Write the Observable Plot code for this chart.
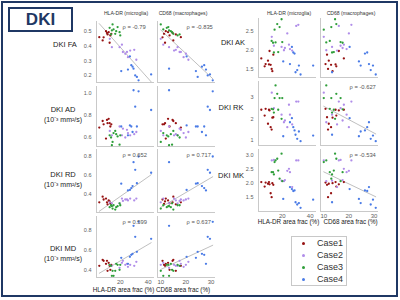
<!DOCTYPE html>
<html><head><meta charset="utf-8">
<script src="https://cdn.jsdelivr.net/npm/d3@7"></script>
<script src="https://cdn.jsdelivr.net/npm/@observablehq/plot@0.6"></script>
<style>
body{margin:0;background:#fff;font-family:"Liberation Sans",Arial,sans-serif;}
#wrap{position:relative;width:400px;height:300px;overflow:hidden;background:#fff;}
.abs{position:absolute;white-space:nowrap;line-height:1;}
.c{transform:translate(-50%,-50%);}
svg{display:block;}
</style></head><body><div id="wrap"></div>
<script>
// ---------- data ----------
const caseNames = ["Case1","Case2","Case3","Case4"];
const caseColors = ["#961212","#b08de9","#2f9e3a","#4a7be6"];
const caseOf = [1,1,1,1,1,1,1,1,1,1, 2,2,2,2,2,2,2,2,2,2,2, 3,3,3,3,3,3,3,3,3,3, 4,4,4,4,4,4,4,4,4,4];
const hla  = [5.0,7.4,8.1,9.8,10.5,10.9,11.7,12.4,12.9,13.6,
              12.5,21.2,14.0,19.5,30.0,27.1,21.9,24.8,23.6,25.5,31.5,
              14.5,18.1,12.4,15.2,14.0,17.1,19.5,16.4,13.4,20.0,
              20.7,25.5,26.9,27.9,29.5,28.8,30.7,31.9,33.1,42.1];
const cd68 = [18.0,15.0,10.7,12.0,14.7,16.0,12.9,11.7,13.5,11.3,
              10,11,16.7,13.3,16,15.3,17.5,18,20,19.1,21,
              10,13,12.4,11,13.3,14,14.5,15,17.5,16.7,
              24,28,20.3,27.3,13.3,26.4,28.7,24.7,30.7,29.6];
const fa = [0.461,0.439,0.46,0.502,0.49,0.48,0.495,0.423,0.473,0.484,
            0.45,0.41,0.393,0.393,0.375,0.37,0.36,0.36,0.348,0.325,0.307,
            0.548,0.53,0.525,0.514,0.507,0.502,0.495,0.484,0.48,0.473,
            0.23,0.24,0.33,0.27,0.246,0.26,0.20,0.19,0.167,0.207];
const ad = [0.69,0.75,0.72,0.59,0.76,0.73,0.77,0.73,0.70,0.72,
            0.66,0.62,0.62,0.70,0.63,0.62,0.68,0.67,0.60,0.64,0.65,
            0.56,0.61,0.62,0.64,0.53,0.63,0.535,0.66,0.60,0.62,
            0.70,0.62,0.71,0.70,1.03,0.65,0.88,0.70,1.02,0.85];
const rd = [0.32,0.38,0.35,0.36,0.32,0.30,0.34,0.33,0.31,0.305,
            0.32,0.36,0.31,0.31,0.34,0.36,0.335,0.35,0.35,0.34,0.36,
            0.255,0.28,0.27,0.29,0.28,0.27,0.31,0.245,0.29,0.29,
            0.515,0.445,0.45,0.47,0.74,0.49,0.66,0.52,0.80,0.63];
const md = [0.44,0.50,0.49,0.46,0.49,0.39,0.47,0.44,0.40,0.45,
            0.45,0.47,0.44,0.42,0.44,0.45,0.49,0.46,0.45,0.43,0.48,
            0.39,0.45,0.45,0.34,0.34,0.46,0.40,0.39,0.44,0.45,
            0.52,0.46,0.53,0.55,0.84,0.56,0.73,0.58,0.88,0.71];
const ak = [1.78,1.57,1.63,1.72,1.62,1.98,1.61,1.50,1.44,1.88,
            2.36,2.00,2.12,2.09,2.65,1.99,2.06,2.15,2.45,2.03,2.68,
            2.55,2.62,2.25,2.21,1.94,1.95,2.83,2.70,2.20,2.22,
            1.70,1.63,2.09,1.94,1.41,1.91,1.47,1.59,1.35,1.59];
const rk = [2.43,2.16,2.47,1.78,2.43,2.40,1.62,1.51,2.06,2.08,
            3.22,1.85,2.50,2.20,2.81,1.75,1.93,2.66,1.62,2.20,2.81,
            2.97,2.97,2.47,3.56,2.30,2.43,2.01,3.17,2.45,2.97,
            1.20,1.85,2.04,1.62,1.27,1.47,1.08,1.42,0.97,1.23];
const mk = [2.05,1.89,2.03,1.99,2.05,1.97,1.65,1.51,2.01,1.95,
            2.82,2.08,2.84,2.10,2.82,1.87,2.12,2.52,2.45,2.40,2.82,
            2.76,2.17,2.40,2.82,2.32,2.46,3.06,2.88,2.40,2.08,
            1.45,1.87,1.80,1.73,1.33,1.75,1.25,1.30,1.13,1.42];

const yTicksFA = [0.2,0.3,0.4,0.5];
const yTicksAD = [0.6,0.8,1.0];
const yTicksRD = [0.4,0.6,0.8];
const yTicksMD = [0.4,0.6,0.8];
const yTicksAK = [1.5,2.0,2.5];
const yTicksRK = [1,2,3];
const yTicksMK = [1.5,2.0,2.5,3.0];
const xTicksHLA = [20,40];
const xTicksCD68 = [10,20,30];

const rhoFA = ["ρ = -0.79","ρ = -0.835"];
const rhoRD = ["ρ = 0.652","ρ = 0.717"];
const rhoMD = ["ρ = 0.599","ρ = 0.637"];
const rhoRK = [null,"ρ = -0.627"];
const rhoMK = [null,"ρ = -0.534"];

const colHeaders = ["HLA-DR (microglia)","CD68 (macrophages)"];
const xTitles = ["HLA-DR area frac (%)","CD68 area frac (%)"];
const unitLabel = "(10⁻³  mm²/s)";

// ---------- build ----------
const data = caseOf.map((c,i)=>({case:caseNames[c-1], hla:hla[i], cd68:cd68[i], fa:fa[i], ad:ad[i], rd:rd[i], md:md[i], ak:ak[i], rk:rk[i], mk:mk[i]}));
const wrap = document.getElementById("wrap");
function txt(s, cx, cy, size, color, weight){
  const d=document.createElement("div");
  d.className="abs c"; d.textContent=s;
  d.style.left=cx+"px"; d.style.top=cy+"px"; d.style.fontSize=size+"px";
  d.style.color=color||"#222"; if(weight) d.style.fontWeight=weight;
  wrap.appendChild(d); return d;
}
const HLA_DOM=[3,44.5], CD68_DOM=[8.7,31.8];
const PW=58;
function panel(o){
  const ML=20,MR=4,MT=2,MB=12;
  const marks=[
    Plot.ruleX([o.xDom[0]],{stroke:"#c9c9c9",strokeWidth:1}),
    Plot.ruleY([o.yDom[0]],{stroke:"#c9c9c9",strokeWidth:1})
  ];
  if(o.showY) marks.push(Plot.axisY(o.yTicks,{tickSize:0,tickPadding:5,tickFormat:d3.format(o.yFmt),fontSize:5.5,label:null}));
  if(o.showX) marks.push(Plot.axisX(o.xTicks,{tickSize:0,tickPadding:2.5,tickFormat:d3.format("d"),fontSize:6,label:null}));
  if(o.rho) marks.push(Plot.linearRegressionY(data,{x:o.xKey,y:o.yKey,stroke:"#b8b8b8",strokeWidth:0.9,ci:0}));
  marks.push(Plot.dot(data,{x:o.xKey,y:o.yKey,fill:"case",r:1.15}));
  if(o.rho) marks.push(Plot.text([o.rho],{text:d=>d,frameAnchor:"top-left",textAnchor:"start",lineAnchor:"middle",dx:o.rdx,dy:5.5,fontSize:5.8,fill:"#555"}));
  const svg=Plot.plot({
    width:PW+ML+MR, height:o.h+MT+MB, marginLeft:ML, marginRight:MR, marginTop:MT, marginBottom:MB,
    x:{domain:o.xDom, axis:null}, y:{domain:o.yDom, axis:null},
    color:{domain:caseNames, range:caseColors},
    style:{fontFamily:"Liberation Sans, Arial, sans-serif",fontSize:"5.5px",color:"#606060",background:"transparent",overflow:"visible",maxWidth:"none"},
    marks
  });
  const d=document.createElement("div");
  d.className="abs"; d.style.left=(o.x0-ML)+"px"; d.style.top=(o.top-MT)+"px";
  d.appendChild(svg); wrap.appendChild(d);
}
const rows=[
  {key:"fa",x0:[96,157],top:21,h:61,dom:[0.152,0.568],ticks:yTicksFA,fmt:".1f",rho:rhoFA,bottom:false},
  {key:"ad",x0:[96,157],top:86,h:60,dom:[0.518,1.064],ticks:yTicksAD,fmt:".1f",rho:[null,null],bottom:false},
  {key:"rd",x0:[96,157],top:149,h:63,dom:[0.214,0.873],ticks:yTicksRD,fmt:".1f",rho:rhoRD,bottom:false},
  {key:"md",x0:[96,157],top:216,h:61,dom:[0.323,0.933],ticks:yTicksMD,fmt:".1f",rho:rhoMD,bottom:true},
  {key:"ak",x0:[258,320],top:18,h:59,dom:[1.27,2.85],ticks:yTicksAK,fmt:".1f",rho:[null,null],bottom:false},
  {key:"rk",x0:[258,320],top:81,h:64,dom:[0.77,3.74],ticks:yTicksRK,fmt:"d",rho:rhoRK,bottom:false},
  {key:"mk",x0:[258,320],top:149,h:62,dom:[1.0,3.21],ticks:yTicksMK,fmt:".1f",rho:rhoMK,bottom:true}
];
for(const r of rows){
  for(let c=0;c<2;c++){
    panel({x0:r.x0[c],top:r.top,h:r.h,xKey:c?"cd68":"hla",xDom:c?CD68_DOM:HLA_DOM,yKey:r.key,yDom:r.dom,
      yTicks:r.ticks,yFmt:r.fmt,showY:c===0,xTicks:c?xTicksCD68:xTicksHLA,showX:r.bottom,rho:r.rho[c],rdx:c?29:26});
  }
}
// frame + title box
const fr=document.createElement("div");
fr.className="abs"; Object.assign(fr.style,{left:"1px",top:"1px",width:"397px",height:"296px",border:"2px solid #1f3864",boxSizing:"border-box"});
wrap.appendChild(fr);
const tb=document.createElement("div");
tb.className="abs"; Object.assign(tb.style,{left:"8px",top:"7px",width:"65px",height:"25px",border:"2px solid #1f3864",boxSizing:"border-box",
  color:"#1f3864",fontWeight:"bold",fontSize:"17px",display:"flex",alignItems:"center",justifyContent:"center"});
tb.textContent="DKI"; wrap.appendChild(tb);
// headers
txt(colHeaders[0],126,13.5,5.1,"#333"); txt(colHeaders[1],183,13.5,5.1,"#333");
txt(colHeaders[0],289,13.5,5.1,"#333"); txt(colHeaders[1],351,13.5,5.1,"#333");
// row labels
txt("DKI FA",65,45,7.5); 
txt("DKI AD",63,110,7.5); txt(unitLabel,63,118.5,7);
txt("DKI RD",63,175,7.5); txt(unitLabel,63,183.5,7);
txt("DKI MD",63,249,7.5); txt(unitLabel,63,257.5,7);
txt("DKI AK",233,43,7.5); txt("DKI RK",231,108,7.5); txt("DKI MK",231,176,7.5);
// x titles
txt(xTitles[0],123.5,290,6.3); txt(xTitles[1],183,290,6.3);
txt(xTitles[0],288.5,222,6.3); txt(xTitles[1],350.5,222,6.3);
// legend
const lg=document.createElement("div");
lg.className="abs"; Object.assign(lg.style,{left:"291px",top:"236px",width:"56px",height:"50px",border:"1px solid #c8c8c8",boxSizing:"border-box"});
wrap.appendChild(lg);
caseNames.forEach((n,i)=>{
  const dot=document.createElement("div");
  dot.className="abs"; Object.assign(dot.style,{left:"301.5px",top:(241.5+i*12)+"px",width:"3px",height:"3px",borderRadius:"50%",background:caseColors[i]});
  wrap.appendChild(dot);
  const t=document.createElement("div");
  t.className="abs"; Object.assign(t.style,{left:"317px",top:(243+i*12)+"px",fontSize:"9px",color:"#333",transform:"translateY(-50%)"});
  t.textContent=n; wrap.appendChild(t);
});
</script></body></html>
